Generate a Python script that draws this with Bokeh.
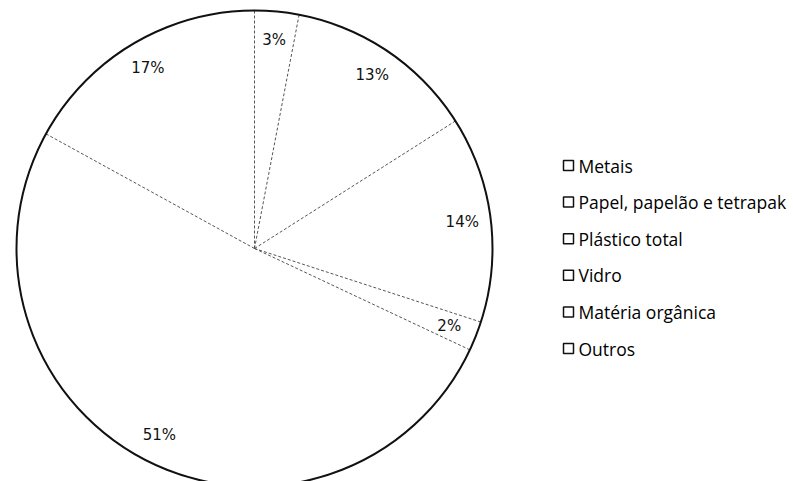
import numpy as np
from bokeh.plotting import figure
from bokeh.models import Range1d
from bokeh.core.properties import value
from bokeh.embed import file_html
from bokeh.resources import INLINE

categories = ["Metais", "Papel, papelão e tetrapak", "Plástico total", "Vidro", "Matéria orgânica", "Outros"]
values = [3, 13, 14, 2, 51, 17]

W, H = 793, 481
cx, cy, R = 254, H - 248, 238

p = figure(width=W, height=H, output_backend="svg", toolbar_location=None,
           x_range=Range1d(0, W), y_range=Range1d(0, H),
           min_border=0, outline_line_color=None, background_fill_color="white")
p.axis.visible = False
p.grid.visible = False

vals = np.array(values, dtype=float)
frac = vals / vals.sum()
c1 = np.cumsum(frac)
c0 = c1 - frac
start = np.pi / 2 - 2 * np.pi * c0
end = np.pi / 2 - 2 * np.pi * c1

p.wedge(x=cx, y=cy, radius=R, start_angle=start, end_angle=end, direction="clock",
        fill_color="white", line_color=None)

# slice boundaries
bang = start
p.segment(x0=[cx] * len(bang), y0=[cy] * len(bang),
          x1=list(cx + R * np.cos(bang)), y1=list(cy + R * np.sin(bang)),
          line_color="#555555", line_width=1, line_dash="3 2")

p.circle(x=cx, y=cy, radius=R, fill_color=None, line_color="#111111", line_width=2)

mid = (start + end) / 2
lr = 0.88 * R
p.text(x=list(cx + lr * np.cos(mid)), y=list(cy + lr * np.sin(mid)),
       text=[f"{v}%" for v in values], text_align="center", text_baseline="middle",
       text_font=value("DejaVu Sans"), text_font_size="15px", text_color="#111111")

# legend
n = len(categories)
ly = [H - (165 + 36.6 * i) for i in range(n)]
p.scatter(x=[568] * n, y=ly, marker="square", size=10, fill_color="white",
          line_color="#111111", line_width=1.5)
p.text(x=[578] * n, y=ly, text=categories, text_align="left", text_baseline="middle",
       text_font=value("Open Sans"), text_font_size="17.5px", text_color="#000000")

open("out.html", "w").write(file_html(p, INLINE))
